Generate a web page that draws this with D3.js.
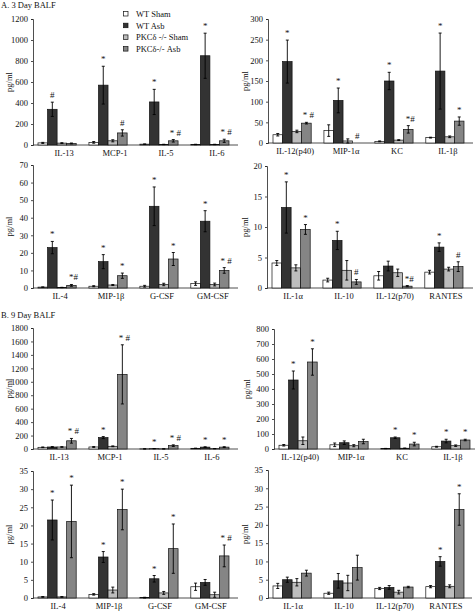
<!DOCTYPE html>
<html><head><meta charset="utf-8">
<script src="https://cdn.jsdelivr.net/npm/d3@7"></script>
<style>body{margin:0;background:#fff}svg{display:block}text{font-family:"Liberation Serif","Times New Roman",serif;fill:#111}</style>
</head><body><svg id="c" width="475" height="611"></svg>
<script>
const seriesNames = ["WT Sham", "WT Asb", "PKCδ -/- Sham", "PKCδ-/- Asb"];
const seriesColors = ["#ffffff", "#333333", "#bdbdbd", "#858585"];

// Panel A1: 3 day, high
const catsA1 = ["IL-13", "MCP-1", "IL-5", "IL-6"];
const valsA1 = [[20, 25, 8, 5], [340, 570, 410, 850], [18, 40, 5, 5], [15, 115, 40, 40]];
const errA1 = [[5, 8, 2, 2], [68, 180, 120, 215], [4, 10, 2, 2], [4, 30, 12, 15]];
const markA1 = [["#", "*", "*", "*"], ["", "#", "* #", "* #"]];
const ticksA1 = [0, 200, 400, 600, 800, 1000, 1200];

const catsA2 = ["IL-12(p40)", "MIP-1α", "KC", "IL-1β"];
const valsA2 = [[20, 30, 4, 13], [197, 103, 150, 174], [28, 5, 7, 15], [48, 0, 33, 53]];
const errA2 = [[3, 14, 1, 1], [52, 30, 21, 92], [3, 5, 1, 2], [2, 0, 9, 10]];
const markA2 = [["*", "*", "*", "*"], ["* #", "#", "*#", "*"]];
const ticksA2 = [0, 50, 100, 150, 200, 250, 300];

const catsA3 = ["IL-4", "MIP-1β", "G-CSF", "GM-CSF"];
const valsA3 = [[0.5, 1, 1, 2.5], [23, 15, 46.5, 38], [0.3, 1.7, 2, 2], [1.5, 7, 16.5, 10]];
const errA3 = [[0.1, 0.3, 0.5, 1], [3.5, 4, 11, 6], [0.1, 0.3, 0.7, 0.8], [0.5, 1.5, 3.7, 1.6]];
const markA3 = [["*", "*", "*", "*"], ["*#", "*", "*", "* #"]];
const ticksA3 = [0, 10, 20, 30, 40, 50, 60, 70];

const catsA4 = ["IL-1α", "IL-10", "IL-12(p70)", "RANTES"];
const valsA4 = [[4.1, 1.3, 2.0, 2.6], [13.2, 7.8, 3.6, 6.7], [3.3, 2.9, 2.5, 3.1], [9.6, 1.0, 0.3, 3.5]];
const errA4 = [[0.4, 0.3, 0.7, 0.3], [4.2, 1.5, 0.8, 0.7], [0.5, 1.6, 0.6, 0.3], [0.8, 0.4, 0.1, 0.8]];
const markA4 = [["*", "*", "", "*"], ["*", "#", "*#", "#"]];
const ticksA4 = [0, 5, 10, 15, 20];

// Panel B: 9 day
const catsB1 = ["IL-13", "MCP-1", "IL-5", "IL-6"];
const valsB1 = [[25, 30, 2, 10], [30, 170, 5, 28], [30, 40, 2, 5], [122, 1110, 50, 28]];
const errB1 = [[5, 6, 1, 2], [6, 15, 2, 5], [5, 6, 1, 2], [35, 440, 12, 6]];
const markB1 = [["", "*", "*", "*"], ["* #", "* #", "* #", "*"]];
const ticksB1 = [0, 200, 400, 600, 800, 1000, 1200, 1400, 1600, 1800];

const catsB2 = ["IL-12(p40)", "MIP-1α", "KC", "IL-1β"];
const valsB2 = [[25, 28, 3, 15], [460, 42, 75, 53], [55, 22, 5, 22], [580, 50, 33, 60]];
const errB2 = [[5, 12, 1, 3], [60, 12, 5, 12], [25, 7, 1, 5], [88, 15, 12, 5]];
const markB2 = [["*", "", "*", "*"], ["*", "", "*", "*"]];
const ticksB2 = [0, 100, 200, 300, 400, 500, 600, 700, 800];

const catsB3 = ["IL-4", "MIP-1β", "G-CSF", "GM-CSF"];
const valsB3 = [[0.3, 1, 0.1, 3.1], [21.5, 11.3, 5.3, 4.3], [0.3, 2.2, 1.4, 0.9], [21.1, 24.4, 13.6, 11.6]];
const errB3 = [[0.1, 0.2, 0.1, 1], [5.5, 1.5, 0.9, 0.8], [0.1, 0.8, 0.4, 0.7], [10, 5.6, 6.8, 3]];
const markB3 = [["*", "*", "*", ""], ["*", "*", "*", "* #"]];
const ticksB3 = [0, 5, 10, 15, 20, 25, 30, 35];

const catsB4 = ["IL-1α", "IL-10", "IL-12(p70)", "RANTES"];
const valsB4 = [[3.3, 1.3, 2.6, 3.1], [5.0, 4.7, 2.9, 10], [4.3, 4.1, 1.6, 3.2], [6.8, 8.3, 3.0, 24.2]];
const errB4 = [[0.7, 0.3, 0.3, 0.3], [0.7, 2, 0.5, 1.3], [1, 2.1, 0.5, 0.4], [0.8, 3.4, 0.2, 4.3]];
const markB4 = [["", "", "", "*"], ["", "", "", "*"]];
const ticksB4 = [0, 5, 10, 15, 20, 25, 30, 35];

const svg = d3.select("#c");

const panels = [
  {cats: catsA1, vals: valsA1, err: errA1, mark: markA1, ticks: ticksA1, x0: 33, x1: 238, yTop: 19, yBot: 145, lab: 12, ldx: 7},
  {cats: catsA2, vals: valsA2, err: errA2, mark: markA2, ticks: ticksA2, x0: 268, x1: 473, yTop: 19, yBot: 143, lab: 248, ldx: 3},
  {cats: catsA3, vals: valsA3, err: errA3, mark: markA3, ticks: ticksA3, x0: 33, x1: 238, yTop: 165, yBot: 288, lab: 12, ldx: 3},
  {cats: catsA4, vals: valsA4, err: errA4, mark: markA4, ticks: ticksA4, x0: 267, x1: 473, yTop: 166, yBot: 288, lab: 248, ldx: 2},
  {cats: catsB1, vals: valsB1, err: errB1, mark: markB1, ticks: ticksB1, x0: 33, x1: 238, yTop: 328, yBot: 449, lab: 12, ldx: 2},
  {cats: catsB2, vals: valsB2, err: errB2, mark: markB2, ticks: ticksB2, x0: 274, x1: 475, yTop: 329, yBot: 449, lab: 250, ldx: 2},
  {cats: catsB3, vals: valsB3, err: errB3, mark: markB3, ticks: ticksB3, x0: 33, x1: 238, yTop: 471, yBot: 598, lab: 12, ldx: 1},
  {cats: catsB4, vals: valsB4, err: errB4, mark: markB4, ticks: ticksB4, x0: 268, x1: 472, yTop: 470, yBot: 598, lab: 248, ldx: 1}
];

panels.forEach(p => {
  const g = svg.append("g");
  const y = d3.scaleLinear().domain([p.ticks[0], p.ticks[p.ticks.length - 1]]).range([p.yBot, p.yTop]);
  const x = d3.scaleBand().domain(p.cats).range([p.x0 + 5, p.x0 + 196]).paddingInner(0.25).paddingOuter(0);
  const xs = d3.scaleBand().domain(d3.range(4)).range([0, x.bandwidth()]).padding(0);

  // y axis
  const ya = g.append("g").attr("transform", `translate(${p.x0},0)`)
    .call(d3.axisLeft(y).tickValues(p.ticks).tickFormat(d3.format("d")).tickSize(2).tickPadding(3));
  ya.attr("font-family", null);
  ya.select(".domain").attr("stroke", "#222").attr("stroke-width", 0.8);
  ya.selectAll(".tick line").attr("stroke", "#222").attr("stroke-width", 0.8);
  ya.selectAll(".tick text").attr("font-size", 8.5).attr("fill", "#222");

  // x axis line
  g.append("line").attr("x1", p.x0).attr("x2", p.x1).attr("y1", p.yBot).attr("y2", p.yBot)
    .attr("stroke", "#222").attr("stroke-width", 0.8);
  g.selectAll(".xl").data(p.cats).enter().append("text")
    .attr("x", d => x(d) + x.bandwidth() / 2 + p.ldx).attr("y", p.yBot + 11)
    .attr("text-anchor", "middle").attr("font-size", 8.5).text(d => d);

  // y label
  g.append("text").attr("transform", `translate(${p.lab},${(p.yTop + p.yBot) / 2}) rotate(-90)`)
    .attr("text-anchor", "middle").attr("font-size", 8.5).text("pg/ml");

  // bars
  p.vals.forEach((sv, si) => {
    sv.forEach((v, ci) => {
      const bx = x(p.cats[ci]) + xs(si);
      const bw = xs.bandwidth();
      g.append("rect").attr("x", bx).attr("y", y(v)).attr("width", bw).attr("height", p.yBot - y(v))
        .attr("fill", seriesColors[si]).attr("stroke", "#111").attr("stroke-width", 0.7);
      const e = p.err[si][ci];
      if (e > 0) {
        const cx = bx + bw / 2;
        g.append("line").attr("x1", cx).attr("x2", cx).attr("y1", y(v + e)).attr("y2", y(Math.max(0, v - e)))
          .attr("stroke", "#000").attr("stroke-width", 0.9);
        [v + e, Math.max(0, v - e)].forEach(ev => {
          g.append("line").attr("x1", cx - 1.5).attr("x2", cx + 1.5).attr("y1", y(ev)).attr("y2", y(ev))
            .attr("stroke", "#000").attr("stroke-width", 0.9);
        });
      }
    });
  });

  // significance marks: row 0 -> WT Asb (series 1), row 1 -> PKC Asb (series 3)
  [1, 3].forEach((si, mi) => {
    p.mark[mi].forEach((m, ci) => {
      if (!m) return;
      const bx = x(p.cats[ci]) + xs(si) + xs.bandwidth() / 2;
      const top = y(p.vals[si][ci] + p.err[si][ci]);
      g.append("text").attr("x", bx + (m.length > 1 ? 2 : 0)).attr("y", top - 4)
        .attr("text-anchor", "middle").attr("font-size", 9).attr("fill", "#333").text(m);
    });
  });
});

// titles
svg.append("text").attr("x", 1).attr("y", 8).attr("font-size", 8.5).text("A. 3 Day BALF");
svg.append("text").attr("x", 1).attr("y", 318).attr("font-size", 8.5).text("B. 9 Day BALF");

// legend
const leg = svg.append("g");
seriesNames.forEach((n, i) => {
  const ly = 14 + i * 11.7;
  leg.append("rect").attr("x", 123.5).attr("y", ly - 2.5).attr("width", 4.5).attr("height", 4.5)
    .attr("fill", seriesColors[i]).attr("stroke", "#111").attr("stroke-width", 0.7);
  leg.append("text").attr("x", 136).attr("y", ly + 3).attr("font-size", 8.5).text(n);
});
</script></body></html>
